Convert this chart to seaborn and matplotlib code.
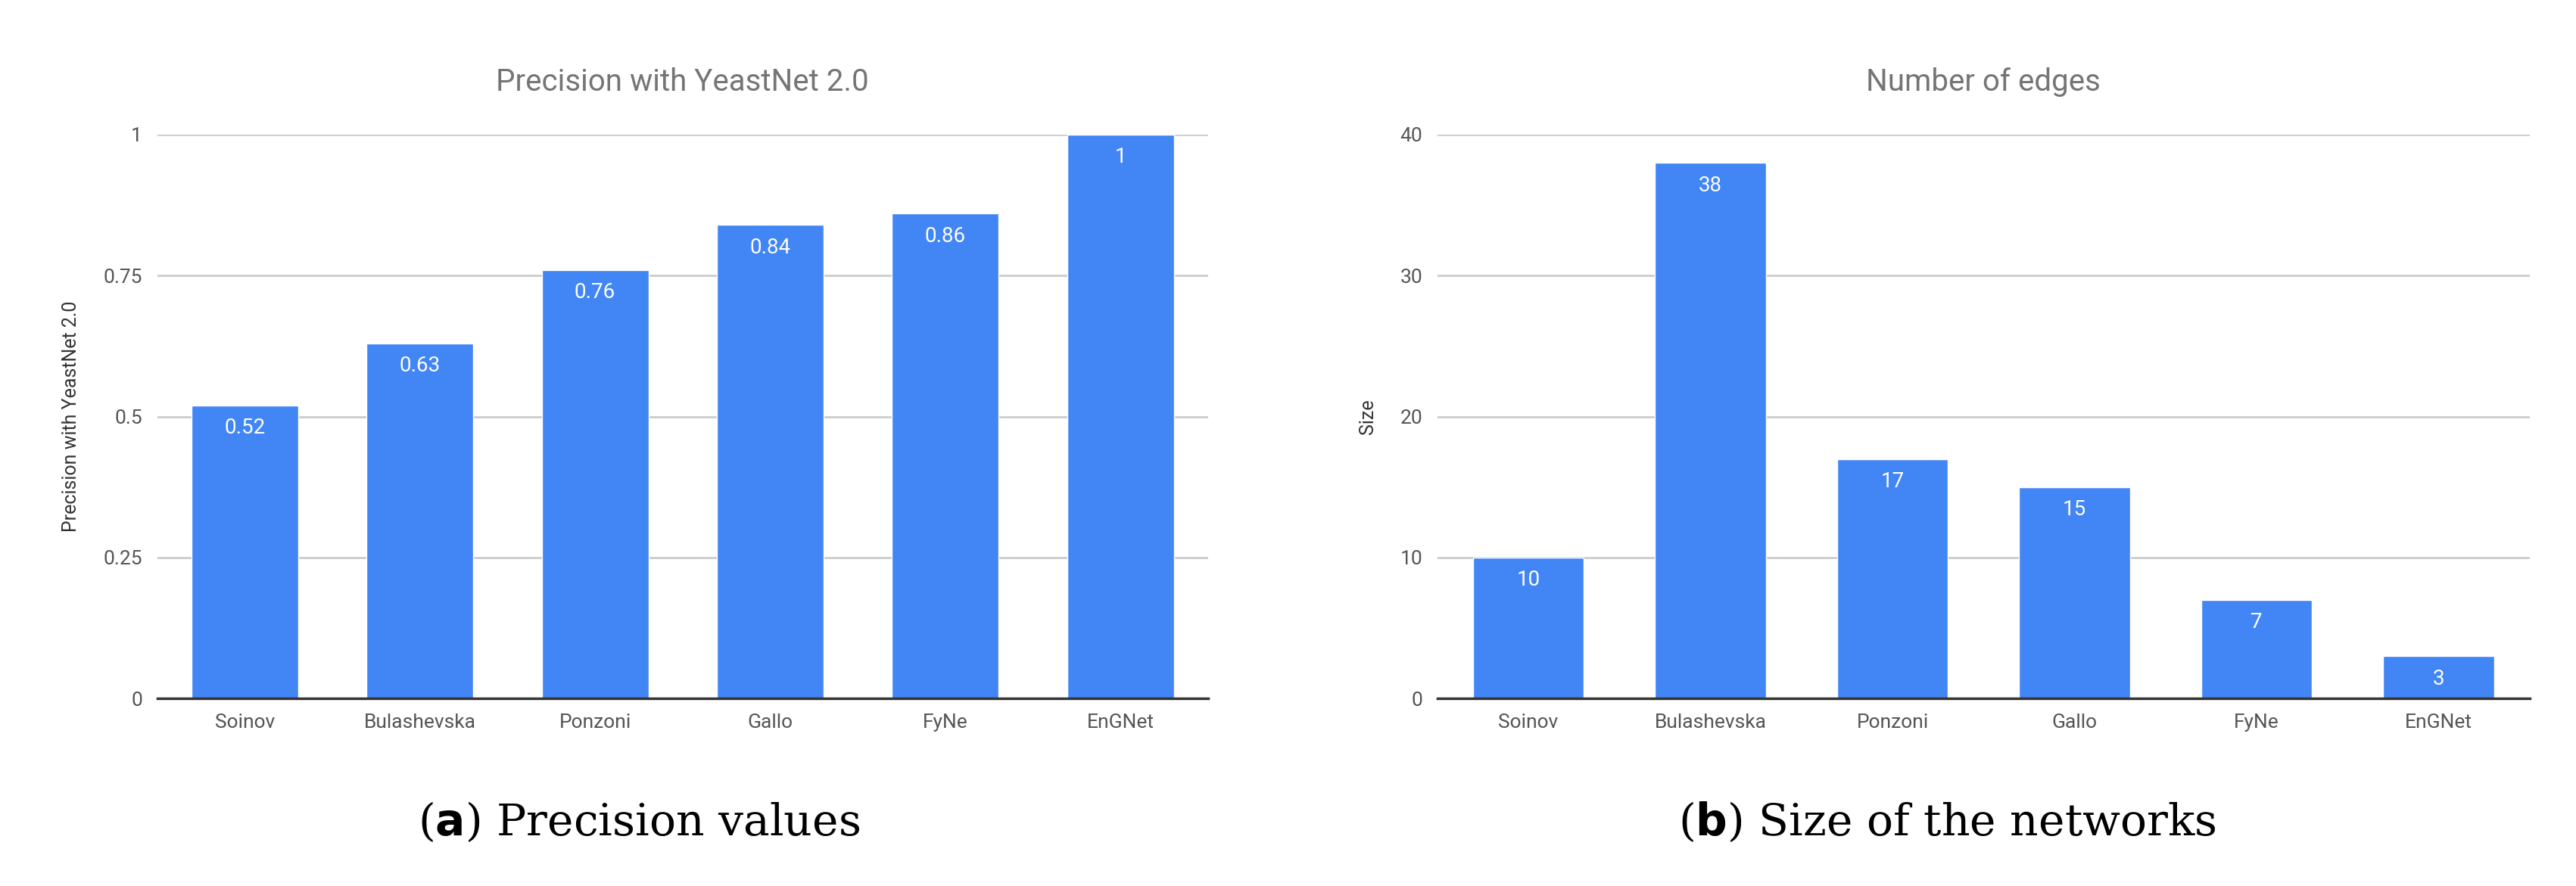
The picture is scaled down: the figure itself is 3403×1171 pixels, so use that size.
import matplotlib
matplotlib.use("Agg")
import matplotlib.pyplot as plt
import seaborn as sns
import pandas as pd

methods = ["Soinov", "Bulashevska", "Ponzoni", "Gallo", "FyNe", "EnGNet"]
precision = [0.52, 0.63, 0.76, 0.84, 0.86, 1.0]
precision_labels = ["0.52", "0.63", "0.76", "0.84", "0.86", "1"]
edges = [10, 38, 17, 15, 7, 3]

sns.set_theme(style="white")
plt.rcParams["font.family"] = ["Roboto", "DejaVu Sans"]

BLUE = "#4285F4"
GREY = "#555555"

fig = plt.figure(figsize=(34.03, 11.71), dpi=100)
ax1 = fig.add_axes([0.061, 0.2115, 0.408, 0.6365])
ax2 = fig.add_axes([0.558, 0.2115, 0.424, 0.6365])


def draw(ax, values, labels, title, ylabel, ymax, yticks, yticklabels, caption_tag, caption):
    df = pd.DataFrame({"method": methods, "value": values})
    sns.barplot(data=df, x="method", y="value", color=BLUE, saturation=1,
                width=0.61, ax=ax)
    ax.set_ylim(0, ymax)
    ax.set_yticks(yticks)
    ax.set_yticklabels(yticklabels)
    ax.yaxis.grid(True, color="#cccccc", linewidth=2)
    ax.set_axisbelow(True)
    for s in ["top", "right", "left"]:
        ax.spines[s].set_visible(False)
    ax.spines["bottom"].set_color("#333333")
    ax.spines["bottom"].set_linewidth(2.5)
    ax.tick_params(axis="both", length=0, labelsize=19, labelcolor=GREY, pad=14)
    ax.set_xlabel("")
    ax.set_ylabel(ylabel, fontsize=18, color="#333333", labelpad=22)
    ax.set_title(title, fontsize=29, color="#757575", pad=42)
    for i, (v, lab) in enumerate(zip(values, labels)):
        ax.text(i, v - ymax * 0.022, lab, ha="center", va="top",
                color="white", fontsize=20)
    ax.text(0.5, -0.24, "", transform=ax.transAxes)
    return ax


draw(ax1, precision, precision_labels, "Precision with YeastNet 2.0",
     "Precision with YeastNet 2.0", 1.0, [0, 0.25, 0.5, 0.75, 1],
     ["0", "0.25", "0.5", "0.75", "1"], "a", "Precision values")
draw(ax2, edges, [str(e) for e in edges], "Number of edges", "Size", 40,
     [0, 10, 20, 30, 40], ["0", "10", "20", "30", "40"], "b", "Size of the networks")

serif = ["DejaVu Serif"]
fig.text(0.248, 0.057, r"($\mathbf{a}$) Precision values", ha="center",
         fontsize=42, family=serif, color="black")
fig.text(0.756, 0.057, r"($\mathbf{b}$) Size of the networks", ha="center",
         fontsize=42, family=serif, color="black")

fig.savefig("out.png", dpi=100, facecolor="white")
